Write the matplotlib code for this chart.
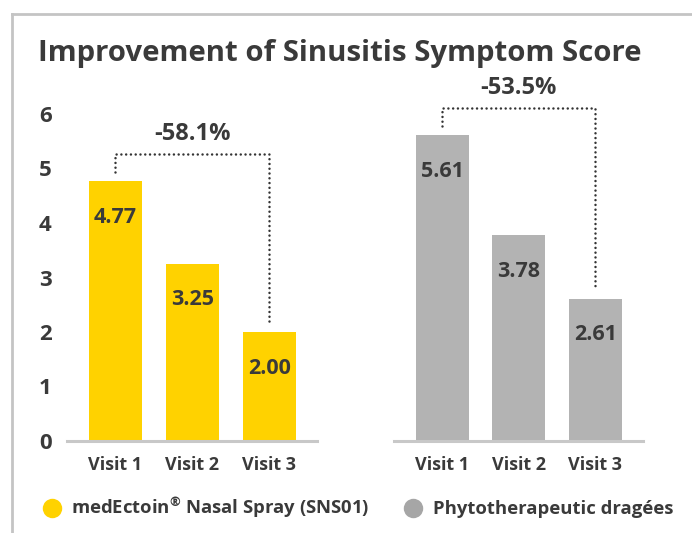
import matplotlib
matplotlib.use("Agg")
import matplotlib.pyplot as plt
from matplotlib.lines import Line2D

# data
visits = ["Visit 1", "Visit 2", "Visit 3"]
ectoin_scores = [4.77, 3.25, 2.00]
phyto_scores = [5.61, 3.78, 2.61]
pct_change = [-58.1, -53.5]
series_names = ["medEctoin$^{\u00ae}$ Nasal Spray (SNS01)", "Phytotherapeutic drag\u00e9es"]
y_ticks = [0, 1, 2, 3, 4, 5, 6]

# styles
YELLOW = "#FFD200"
GRAY_BAR = "#B3B3B3"
GRAY_DOT = "#A6A6A6"
TEXT = "#3A3A3A"
AXIS_LINE = "#C8C8C8"
FONT = "Open Sans"

plt.rcParams["font.family"] = [FONT, "DejaVu Sans"]
plt.rcParams["font.weight"] = "bold"
plt.rcParams["mathtext.fontset"] = "custom"
plt.rcParams["mathtext.rm"] = "Open Sans:bold"
plt.rcParams["mathtext.it"] = "Open Sans:bold"
plt.rcParams["mathtext.bf"] = "Open Sans:bold"
plt.rcParams["mathtext.default"] = "rm"

W, H = 692, 533
fig = plt.figure(figsize=(W / 100, H / 100), dpi=100)

def px_rect(x0, x1, ybase, ytop):
    return [x0 / W, 1 - ybase / H, (x1 - x0) / W, (ybase - ytop) / H]

ax1 = fig.add_axes(px_rect(67, 317, 441, 114))
ax2 = fig.add_axes(px_rect(394, 643, 441, 114))

def draw_group(ax, values, color, pct, show_y):
    x = list(range(len(values)))
    bars = ax.bar(x, values, width=0.69, color=color, zorder=2)
    ax.set_xlim(-0.63, 2.62)
    ax.set_ylim(0, 6)
    for s in ["top", "left", "right"]:
        ax.spines[s].set_visible(False)
    ax.spines["bottom"].set_color(AXIS_LINE)
    ax.spines["bottom"].set_linewidth(2.2)
    ax.set_xticks(x)
    ax.set_xticklabels(visits)
    ax.tick_params(axis="x", length=0, pad=11, labelsize=13, labelcolor=TEXT)
    if show_y:
        ax.set_yticks(y_ticks)
        ax.tick_params(axis="y", length=0, pad=11, labelsize=16, labelcolor=TEXT)
    else:
        ax.set_yticks([])
    ax.patch.set_alpha(0)

    # value labels inside bars
    for b, v in zip(bars, values):
        ax.annotate(f"{v:.2f}", (b.get_x() + b.get_width() / 2, v),
                    xytext=(0, -26), textcoords="offset points",
                    ha="center", va="center", fontsize=15.5, color=TEXT,
                    fontweight="bold")

    # dotted bracket from first to last visit
    top = values[0] + 0.5
    ax.plot([0, 0, 2, 2], [values[0] + 0.17, top, top, values[-1] + 0.17],
            color="#333333", lw=1.8, linestyle=(0, (0.01, 1.9)),
            dash_capstyle="round", solid_capstyle="round", clip_on=False, zorder=3)
    ax.annotate(f"{pct}%", (1, top), xytext=(0, 14.5), textcoords="offset points",
                ha="center", va="center", fontsize=17, color=TEXT,
                fontweight="bold", annotation_clip=False)

draw_group(ax1, ectoin_scores, YELLOW, pct_change[0], True)
draw_group(ax2, phyto_scores, GRAY_BAR, pct_change[1], False)

# title
fig.text(38 / W, 1 - 61 / H, "Improvement of Sinusitis Symptom Score",
         ha="left", va="baseline", fontsize=21.2, fontweight="bold", color=TEXT)

# frame lines (top and left)
fig.add_artist(Line2D([12 / W, 1], [1 - 14 / H, 1 - 14 / H], color="#C4C4C4",
                      lw=2, transform=fig.transFigure))
fig.add_artist(Line2D([12 / W, 12 / W], [0, 1 - 14 / H], color="#C4C4C4",
                      lw=2, transform=fig.transFigure))

# legend
handles = [Line2D([], [], marker="o", ls="", markersize=14, color=c, markeredgewidth=0)
           for c in [YELLOW, GRAY_DOT]]
fig.legend(handles, series_names, loc="center left",
           bbox_to_anchor=(41 / W, 1 - 508 / H), ncol=2, frameon=False,
           handletextpad=0.45, columnspacing=1.75, handlelength=1.2,
           prop={"family": FONT, "weight": "bold", "size": 13.3},
           labelcolor=TEXT, borderaxespad=0, borderpad=0)

fig.savefig("out.png", dpi=100)
